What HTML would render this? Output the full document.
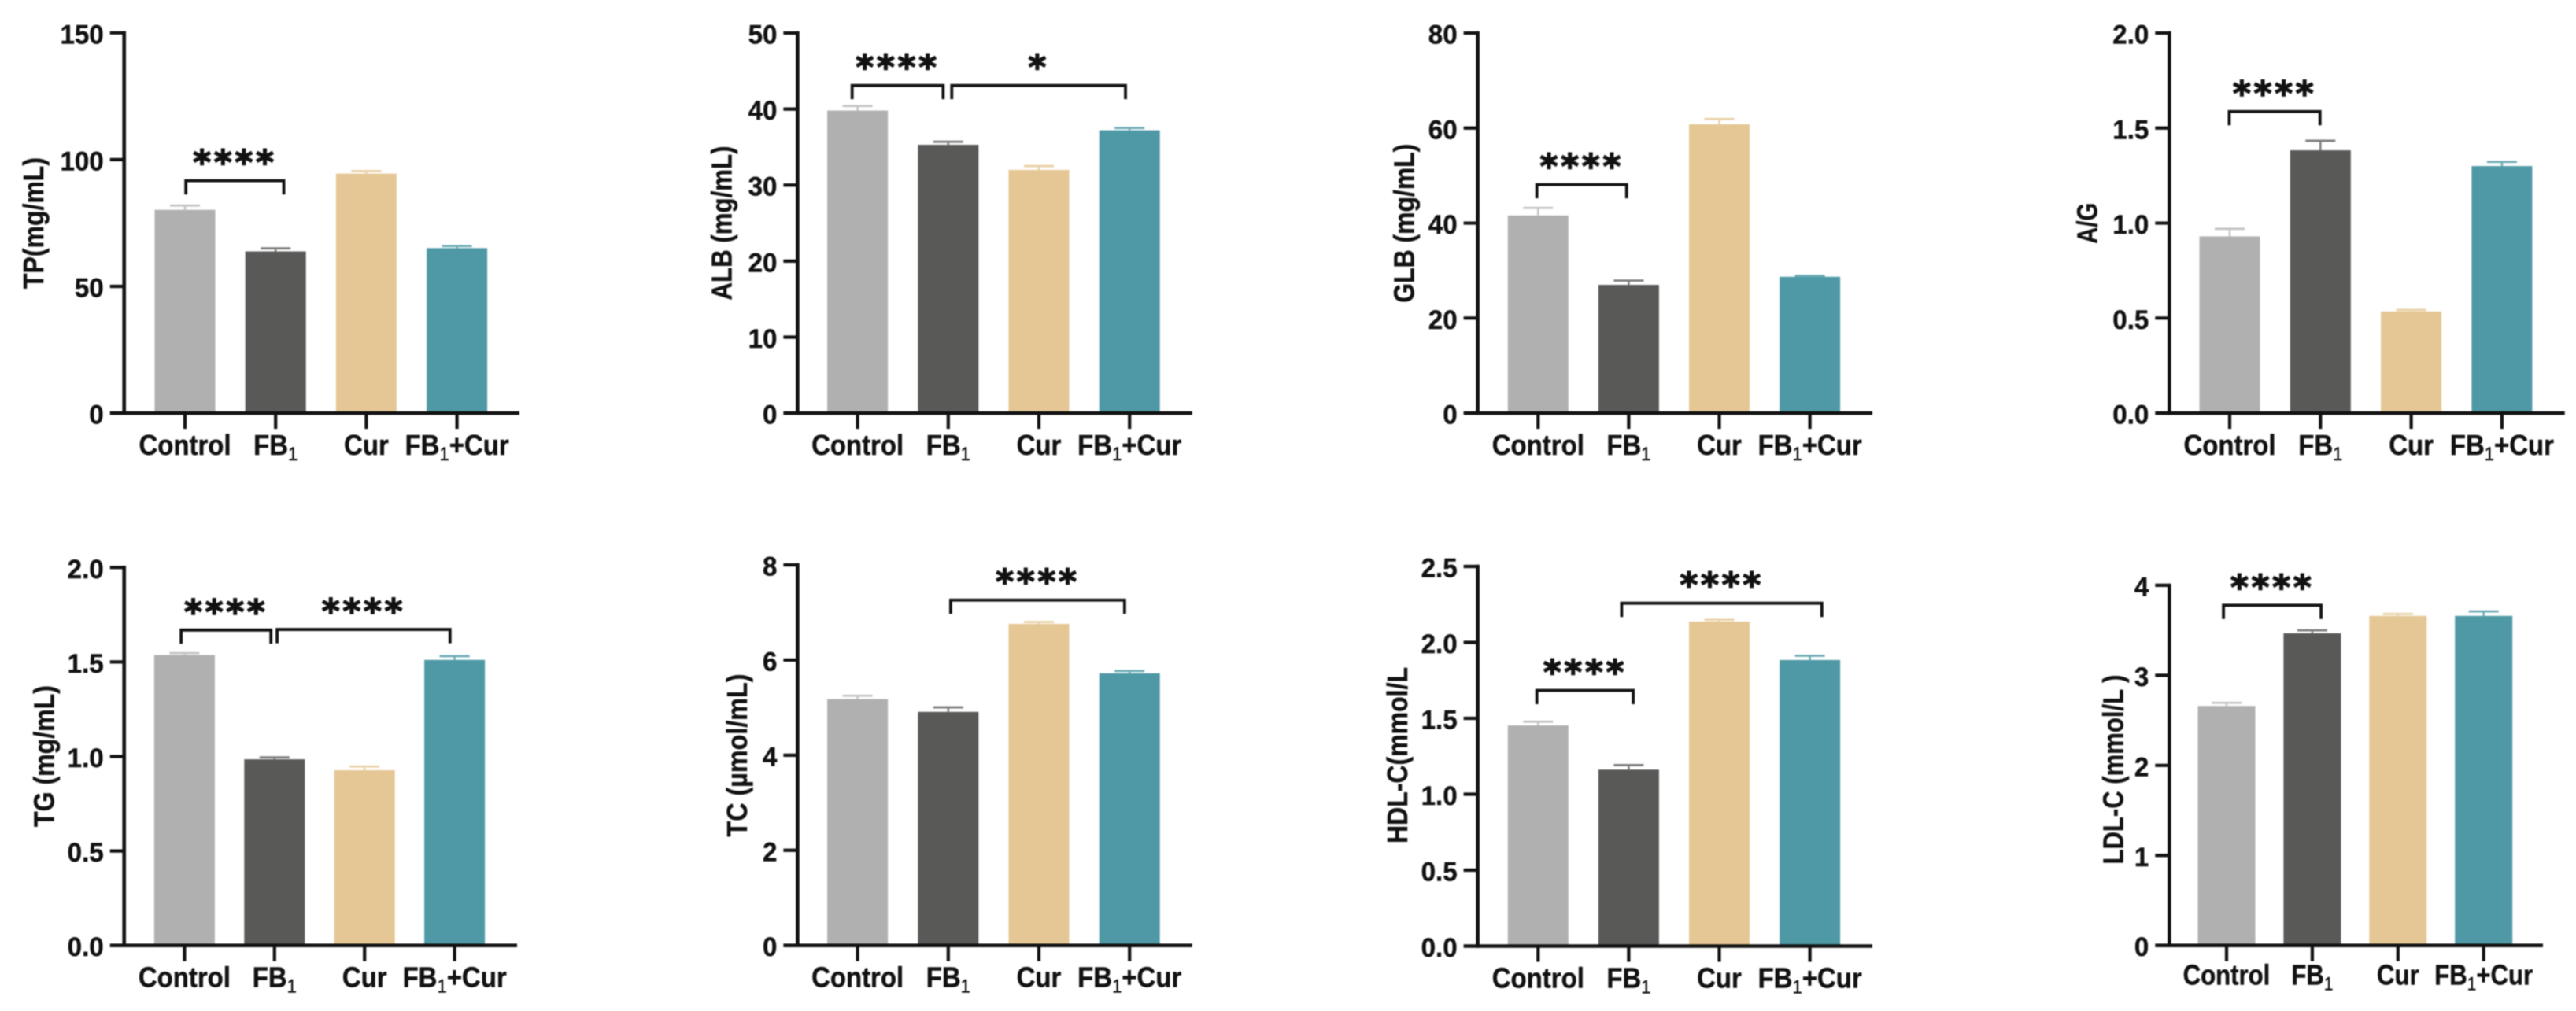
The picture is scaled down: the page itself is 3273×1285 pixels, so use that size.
<!DOCTYPE html>
<html lang="en">
<head>
<meta charset="utf-8">
<title>Serum biochemistry bar charts</title>
<style>
  html, body { margin: 0; padding: 0; background: #ffffff; }
  body { width: 3273px; height: 1285px; overflow: hidden; }
  svg { display: block; filter: blur(0.8px); }
  text { font-family: "Liberation Sans", Arial, sans-serif; font-weight: 700; fill: #111111; stroke: #111111; stroke-width: 0.45px; }
  .stars { font-family: "DejaVu Sans", "Liberation Sans", sans-serif; stroke-width: 1.4px; }
</style>
</head>
<body>
<svg id="figure" xmlns="http://www.w3.org/2000/svg" width="3273" height="1285" viewBox="0 0 3273 1285"></svg>
<script>
// ---- shared categories and colours ----
const categories = ["Control", "FB|1", "Cur", "FB|1|+Cur"];
const barColors = ["#b0b0b0", "#595958", "#e5c795", "#4e99a5"];
const capColors = ["#c4c4c4", "#7d7d7c", "#ead2a9", "#6fadb7"];

// ---- series values ----
const tpValues = [80.2, 63.8, 94.5, 65.1];
const tpErrors = [1.7, 1.2, 1.0, 0.8];
const tpTicks = ["0", "50", "100", "150"];

const albValues = [39.8, 35.3, 32.0, 37.2];
const albErrors = [0.6, 0.4, 0.5, 0.3];
const albTicks = ["0", "10", "20", "30", "40", "50"];

const glbValues = [41.6, 27.0, 60.8, 28.7];
const glbErrors = [1.6, 0.9, 1.1, 0.2];
const glbTicks = ["0", "20", "40", "60", "80"];

const agValues = [0.93, 1.383, 0.535, 1.30];
const agErrors = [0.04, 0.05, 0.008, 0.022];
const agTicks = ["0.0", "0.5", "1.0", "1.5", "2.0"];

const tgValues = [1.537, 0.985, 0.927, 1.511];
const tgErrors = [0.01, 0.01, 0.02, 0.02];
const tgTicks = ["0.0", "0.5", "1.0", "1.5", "2.0"];

const tcValues = [5.18, 4.91, 6.76, 5.72];
const tcErrors = [0.07, 0.095, 0.04, 0.05];
const tcTicks = ["0", "2", "4", "6", "8"];

const hdlValues = [1.453, 1.162, 2.137, 1.884];
const hdlErrors = [0.025, 0.03, 0.012, 0.028];
const hdlTicks = ["0.0", "0.5", "1.0", "1.5", "2.0", "2.5"];

const ldlValues = [2.66, 3.467, 3.66, 3.66];
const ldlErrors = [0.035, 0.033, 0.022, 0.05];
const ldlTicks = ["0", "1", "2", "3", "4"];

// ---- significance brackets: [from category, to category, level on the value axis, stars] ----
const tpBrackets = [[0.01, 1.09, 91.7, "****"]];
const albBrackets = [[-0.06, 0.944, 43.1, "****"], [1.039, 2.955, 43.1, "*"]];
const glbBrackets = [[-0.014, 0.977, 48.1, "****"]];
const agBrackets = [[-0.005, 0.995, 1.587, "****"]];
const tgBrackets = [[-0.037, 0.96, 1.669, "****"], [1.029, 2.949, 1.672, "****"]];
const tcBrackets = [[1.027, 2.945, 7.26, "****"]];
const hdlBrackets = [[-0.014, 1.05, 1.684, "****"], [0.922, 3.132, 2.258, "****"]];
const ldlBrackets = [[-0.036, 1.103, 3.778, "****"]];

// ---- panel layout (frame geometry only; marks come from the arrays above) ----
const panels = [
  { id: "tp",  title: "TP(mg/mL)",       values: tpValues,  errors: tpErrors,  ticks: tpTicks,  brackets: tpBrackets,
    axisX: 157.7,  axisEnd: 660,    top: 41.8,  base: 525.1,  first: 235,    step: 115.2, barW: 77, titleX: 55,     titleY: 283.5, titleLen: 167, labelScale: 0.915, labelDy: 53 },
  { id: "alb", title: "ALB (mg/mL)",     values: albValues, errors: albErrors, ticks: albTicks, brackets: albBrackets,
    axisX: 1013.4, axisEnd: 1514.8, top: 42,    base: 525.1,  first: 1089.6, step: 115.2, barW: 77, titleX: 929.3,  titleY: 283.5, titleLen: 196, labelScale: 0.915, labelDy: 53 },
  { id: "glb", title: "GLB (mg/mL)",     values: glbValues, errors: glbErrors, ticks: glbTicks, brackets: glbBrackets,
    axisX: 1877.6, axisEnd: 2379,   top: 42,    base: 525.1,  first: 1954.3, step: 115.1, barW: 77, titleX: 1796.6, titleY: 283.7, titleLen: 202, labelScale: 0.915, labelDy: 53 },
  { id: "ag",  title: "A/G",             values: agValues,  errors: agErrors,  ticks: agTicks,  brackets: agBrackets,
    axisX: 2756.3, axisEnd: 3258.7, top: 42,    base: 525.1,  first: 2833,   step: 115.3, barW: 77, titleX: 2664.3, titleY: 283.7, titleLen: 52,  labelScale: 0.915, labelDy: 53 },
  { id: "tg",  title: "TG (mg/mL)",      values: tgValues,  errors: tgErrors,  ticks: tgTicks,  brackets: tgBrackets,
    axisX: 157.7,  axisEnd: 657,    top: 721.3, base: 1201.7, first: 234.4,  step: 114.4, barW: 77, titleX: 68.3,   titleY: 961,   titleLen: 180, labelScale: 0.915, labelDy: 53 },
  { id: "tc",  title: "TC (µmol/mL)",    values: tcValues,  errors: tcErrors,  ticks: tcTicks,  brackets: tcBrackets,
    axisX: 1013.4, axisEnd: 1514.8, top: 718,   base: 1201.7, first: 1089.6, step: 115.2, barW: 77, titleX: 948.8,  titleY: 960,   titleLen: 207, labelScale: 0.915, labelDy: 53 },
  { id: "hdl", title: "HDL-C(mmol/L",    values: hdlValues, errors: hdlErrors, ticks: hdlTicks, brackets: hdlBrackets,
    axisX: 1877.6, axisEnd: 2379,   top: 720,   base: 1202.5, first: 1954.3, step: 115.1, barW: 77, titleX: 1788.2, titleY: 960,   titleLen: 224, labelScale: 0.915, labelDy: 53 },
  { id: "ldl", title: "LDL-C (mmol/L )", values: ldlValues, errors: ldlErrors, ticks: ldlTicks, brackets: ldlBrackets,
    axisX: 2756.3, axisEnd: 3231,   top: 743.9, base: 1201.7, first: 2829,   step: 108.9, barW: 73, titleX: 2697.4, titleY: 978,   titleLen: 241, labelScale: 0.865, labelDy: 50 }
];

const NS = "http://www.w3.org/2000/svg";
const svgRoot = document.getElementById("figure");

function make(tag, attrs, parent) {
  const node = document.createElementNS(NS, tag);
  for (const key in attrs) node.setAttribute(key, attrs[key]);
  parent.appendChild(node);
  return node;
}

function drawPanel(p) {
  const g = make("g", {}, svgRoot);
  
  

  const tickNums = p.ticks.map(Number);
  const maxVal = tickNums[tickNums.length - 1];
  const y = v => p.base - (v / maxVal) * (p.base - p.top);
  const x = i => p.first + i * p.step;

  // bars
  p.values.forEach((v, i) => {
    const bar = make("rect", { x: x(i) - p.barW / 2, y: y(v), width: p.barW, height: p.base - y(v), fill: barColors[i] }, g);
    
    
  });

  // error bars
  p.values.forEach((v, i) => {
    const top = y(v + p.errors[i]);
    const stem = make("line", { x1: x(i), x2: x(i), y1: y(v), y2: top, stroke: capColors[i], "stroke-width": 2.5 }, g);
    
    
    const cap = make("line", { x1: x(i) - 19, x2: x(i) + 19, y1: top, y2: top, stroke: capColors[i], "stroke-width": 2.8 }, g);
    
    
  });

  // y axis
  const yAxis = make("line", { x1: p.axisX, x2: p.axisX, y1: p.top - 2.2, y2: p.base + 2.2, stroke: "#111", "stroke-width": 4.6 }, g);
  
  

  // x axis
  const xAxis = make("line", { x1: p.axisX - 18, x2: p.axisEnd, y1: p.base, y2: p.base, stroke: "#111", "stroke-width": 4.6 }, g);
  
  

  // y ticks and labels
  tickNums.forEach((t, k) => {
    if (t !== 0) {
      const tick = make("line", { x1: p.axisX - 18, x2: p.axisX, y1: y(t), y2: y(t), stroke: "#111", "stroke-width": 4.2 }, g);
      
      
    }
    const lab = make("text", { transform: "translate(" + (p.axisX - 26) + " " + (y(t) + 13.5) + ") scale(0.96 1)", "text-anchor": "end", "font-size": 34.5 }, g);
    lab.textContent = p.ticks[k];
    
    
  });

  // x ticks and labels
  categories.forEach((c, i) => {
    const tick = make("line", { x1: x(i), x2: x(i), y1: p.base, y2: p.base + 20, stroke: "#111", "stroke-width": 4.2 }, g);
    
    
    const lab = make("text", { transform: "translate(" + x(i) + " " + (p.base + p.labelDy) + ") scale(" + p.labelScale + " 1)", "text-anchor": "middle", "font-size": 36 }, g);
    
    
    const parts = c.split("|");
    parts.forEach((part, n) => {
      const span = make("tspan", {}, lab);
      if (n === 1) {
        span.setAttribute("font-size", 24);
        span.setAttribute("font-weight", "400");
        span.setAttribute("dy", "7");
      } else if (n === 2) {
        span.setAttribute("dy", "-7");
      }
      span.textContent = part;
    });
  });

  // significance brackets
  p.brackets.forEach((b, k) => {
    const bx1 = x(b[0]);
    const bx2 = x(b[1]);
    const by = y(b[2]);
    const path = make("path", { d: "M" + bx1 + " " + (by + 17.5) + "V" + by + "H" + bx2 + "V" + (by + 17.5), fill: "none", stroke: "#111", "stroke-width": 3.8 }, g);
    
    
    const stars = make("text", { class: "stars", x: (bx1 + bx2) / 2, y: by - 31 + 23, "text-anchor": "middle", "font-size": 44, "letter-spacing": 3.6 }, g);
    stars.textContent = b[3];
    
    
  });

  // y axis title
  const title = make("text", {
    transform: "translate(" + p.titleX + " " + p.titleY + ") rotate(-90)",
    "text-anchor": "middle", "font-size": 36, textLength: p.titleLen, lengthAdjust: "spacingAndGlyphs"
  }, g);
  title.textContent = p.title;
  
  
}

panels.forEach(drawPanel);
</script>
</body>
</html>
